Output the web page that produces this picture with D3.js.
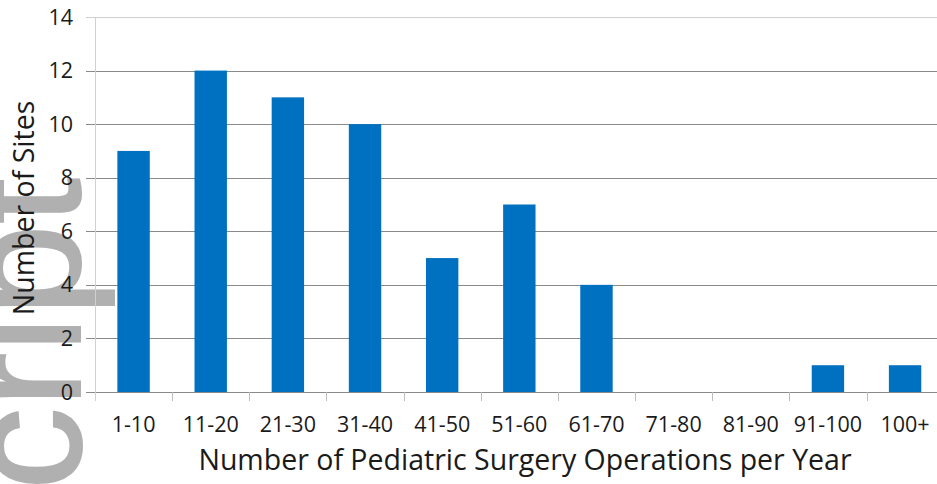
<!DOCTYPE html>
<html lang="en">
<head>
    <meta charset="UTF-8">
    <title>Pediatric Surgery Operations per Year</title>
    <script src="https://d3js.org/d3.v7.min.js"></script>
    <style>
        body { margin: 0; background: #fff; }
        text { font-family: "Open Sans", Lato, sans-serif; fill: #1a1a1a; }
        .watermark { font-family: "Liberation Sans", Arial, sans-serif; fill: #b0b0b0; stroke: #b0b0b0; stroke-width: 2px; }
    </style>
</head>
<body>
    <svg width="937" height="484"></svg>
    <script>
    // data
    const categories = ["1-10", "11-20", "21-30", "31-40", "41-50", "51-60", "61-70", "71-80", "81-90", "91-100", "100+"];
    const sites = [9, 12, 11, 10, 5, 7, 4, 0, 0, 1, 1];
    const yTicks = [0, 2, 4, 6, 8, 10, 12, 14];

    const width = 937, height = 484;
    const svg = d3.select("svg");

    const plotLeft = 95, plotTop = 17, plotBottom = 392;
    const step = 77.15;

    const x = d3.scaleBand()
        .domain(categories)
        .range([plotLeft, plotLeft + step * categories.length])
        .padding(0);

    const y = d3.scaleLinear()
        .domain([0, 14])
        .range([plotBottom, plotTop]);

    // watermark behind everything
    svg.append("text")
        .attr("class", "watermark")
        .attr("transform", "translate(80,490) rotate(-90)")
        .attr("font-size", 165)
        .text("cript");

    // gridlines + y tick marks
    svg.append("g")
        .selectAll("line")
        .data(yTicks)
        .enter().append("line")
        .attr("x1", plotLeft - 9)
        .attr("x2", width)
        .attr("y1", d => Math.round(y(d)) + 0.5)
        .attr("y2", d => Math.round(y(d)) + 0.5)
        .attr("stroke", d => d === 14 ? "#cfcfcf" : "#8a8a8a")
        .attr("stroke-width", 1);

    // left axis line
    svg.append("line")
        .attr("x1", plotLeft + 0.5).attr("x2", plotLeft + 0.5)
        .attr("y1", plotTop).attr("y2", plotBottom + 9)
        .attr("stroke", "#d0d0d0");

    // x tick marks at band edges
    svg.append("g")
        .selectAll("line")
        .data(categories.slice(1))
        .enter().append("line")
        .attr("x1", d => Math.round(x(d)) + 0.5)
        .attr("x2", d => Math.round(x(d)) + 0.5)
        .attr("y1", plotBottom)
        .attr("y2", plotBottom + 9)
        .attr("stroke", "#bdbdbd");

    // bars
    const barW = x.bandwidth() * 0.42;
    svg.append("g")
        .selectAll("rect")
        .data(sites)
        .enter().append("rect")
        .attr("x", (d, i) => x(categories[i]) + (x.bandwidth() - barW) / 2)
        .attr("y", d => y(d))
        .attr("width", barW)
        .attr("height", d => y(0) - y(d))
        .attr("fill", "#0070c0");

    // y tick labels
    svg.append("g")
        .selectAll("text")
        .data(yTicks)
        .enter().append("text")
        .attr("x", 73)
        .attr("y", d => y(d))
        .attr("dy", "0.35em")
        .attr("text-anchor", "end")
        .attr("font-size", 21.5)
        .text(d => d);

    // x tick labels
    svg.append("g")
        .selectAll("text")
        .data(categories)
        .enter().append("text")
        .attr("x", d => x(d) + x.bandwidth() / 2)
        .attr("y", 432)
        .attr("text-anchor", "middle")
        .attr("font-size", 21.5)
        .text(d => d);

    // axis titles
    svg.append("text")
        .attr("x", 525)
        .attr("y", 470)
        .attr("text-anchor", "middle")
        .attr("font-size", 28.5)
        .text("Number of Pediatric Surgery Operations per Year");

    svg.append("text")
        .attr("transform", "translate(34,208) rotate(-90)")
        .attr("text-anchor", "middle")
        .attr("font-size", 28.5)
        .text("Number of Sites");
    </script>
</body>
</html>
